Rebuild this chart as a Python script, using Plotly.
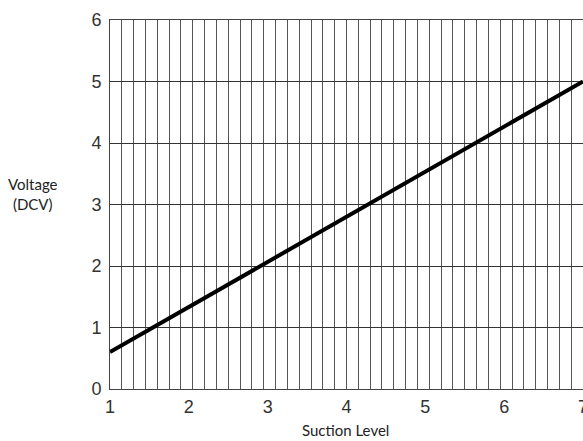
import plotly.graph_objects as go

# suction level vs voltage (straight line)
suction = [1, 7]
voltage = [0.6, 5.0]

x_ticks = [1, 2, 3, 4, 5, 6, 7]
y_ticks = [0, 1, 2, 3, 4, 5, 6]

fig = go.Figure()
fig.add_trace(go.Scatter(x=suction, y=voltage, mode='lines',
                         line=dict(color='black', width=4), showlegend=False,
                         cliponaxis=False))

tick_font = dict(family='Liberation Sans, Arial', size=18, color='#333')
title_font = dict(family='Lato, Open Sans', size=15, color='#222')

fig.update_layout(
    width=583, height=441,
    margin=dict(l=110, r=0, t=20, b=52),
    paper_bgcolor='white', plot_bgcolor='white',
    xaxis=dict(range=[1, 7], tickvals=x_ticks, showgrid=False, zeroline=False,
               showline=True, linecolor='#444', linewidth=1, mirror=True,
               tickfont=tick_font, ticks='', ticklabelstandoff=1,
               ticklabeloverflow='allow', automargin=False,
               minor=dict(tick0=1, dtick=0.15, showgrid=True,
                          gridcolor='#555', gridwidth=1)),
    yaxis=dict(range=[0, 6], tickvals=y_ticks, showgrid=True, gridcolor='#333',
               gridwidth=1, zeroline=False, showline=True, linecolor='#444',
               linewidth=1, mirror=True, tickfont=tick_font, ticks='',
               ticklabelstandoff=4, automargin=False),
)

# axis titles placed by pixel position
pw, ph = 473, 369
fig.add_annotation(text='Voltage<br>(DCV)', x=(33 - 110) / pw, y=(389 - 194) / ph,
                   xref='paper', yref='paper', xanchor='center', yanchor='middle',
                   showarrow=False, font=title_font)
fig.add_annotation(text='Suction Level', x=(345 - 110) / pw, y=(389 - 430) / ph,
                   xref='paper', yref='paper', xanchor='center', yanchor='middle',
                   showarrow=False, font=title_font)

# drop the default page margin so the figure sits at the window corner
fig.write_html("out.html", config={'displayModeBar': False},
               post_script="document.body.style.margin='0';"
                           "document.body.style.overflow='hidden';")
